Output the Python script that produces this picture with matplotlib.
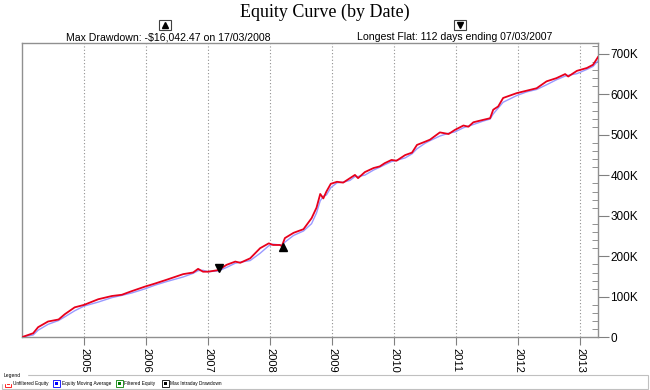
import matplotlib.pyplot as plt
import matplotlib.ticker as mticker
import numpy as np
import pandas as pd
from matplotlib.patches import Rectangle

# equity curve (decimal year, equity in K$)
years = [2004.02, 2004.18, 2004.26, 2004.42, 2004.59, 2004.69, 2004.85, 2005.00,
         2005.23, 2005.45, 2005.61, 2005.77, 2005.98, 2006.15, 2006.33, 2006.60,
         2006.76, 2006.84, 2006.92, 2007.00, 2007.17, 2007.30, 2007.44, 2007.52,
         2007.68, 2007.84, 2007.98, 2008.05, 2008.16, 2008.19, 2008.24, 2008.38,
         2008.54, 2008.67, 2008.75, 2008.81, 2008.86, 2008.91, 2008.98, 2009.08,
         2009.18, 2009.29, 2009.37, 2009.42, 2009.53, 2009.67, 2009.77, 2009.85,
         2009.96, 2010.04, 2010.18, 2010.29, 2010.37, 2010.50, 2010.58, 2010.74,
         2010.88, 2010.98, 2011.12, 2011.20, 2011.28, 2011.44, 2011.55, 2011.60,
         2011.68, 2011.76, 2011.98, 2012.14, 2012.30, 2012.46, 2012.62, 2012.76,
         2012.81, 2012.95, 2013.11, 2013.21, 2013.29]
equity_k = [1.5, 10, 25, 39, 44, 57, 74, 80,
            94, 102, 105, 114, 125, 133, 142, 156,
            160, 169, 162, 162, 166, 179, 187, 184,
            195, 220, 232, 228, 228, 225, 245, 258,
            267, 294, 320, 354, 343, 360, 379, 384,
            382, 393, 401, 393, 408, 418, 422, 430,
            438, 436, 450, 456, 475, 483, 488, 506,
            502, 512, 523, 520, 531, 537, 541, 562,
            570, 591, 603, 609, 615, 632, 640, 650,
            644, 658, 665, 673, 692]

# markers: longest flat end / max drawdown
flat_end = (2007.17, 172)
dd_point = (2008.21, 222)

year_ticks = list(range(2005, 2014))
title = "Equity Curve (by Date)"
dd_text = "Max Drawdown: -$16,042.47 on 17/03/2008"
flat_text = "Longest Flat: 112 days ending 07/03/2007"
legend_items = [("Unfiltered Equity", "#ff0000"),
                ("Equity Moving Average", "#0000ff"),
                ("Filtered Equity", "#008000"),
                ("Max Intraday Drawdown", "#000000")]

W, H = 650, 390


def fx(x):
    return x / W


def fy(y):
    return 1 - y / H


fig = plt.figure(figsize=(6.5, 3.9), dpi=100)
fig.patch.set_facecolor("white")
ax = fig.add_axes([fx(22), fy(337.3), fx(598) - fx(22), fy(43.3) - fy(337.3)])

x = np.array(years)
y = np.array(equity_k) * 1000
ma = pd.Series(y).rolling(2, min_periods=1).mean().values

ax.plot(x, ma, color="#8080ff", lw=1.0, alpha=0.8, zorder=2)
ax.plot(x, y, color="#e8001c", lw=1.3, zorder=3)
ax.plot(flat_end[0], flat_end[1] * 1000, marker="v", color="black", ms=6, zorder=4)
ax.plot(dd_point[0], dd_point[1] * 1000, marker="^", color="black", ms=6, zorder=4)

ax.set_xlim(2004.0, 2013.29)
ax.set_ylim(0, 726000)

ax.set_xticks(year_ticks)
ax.set_xticklabels([str(v) for v in year_ticks], rotation=270, fontsize=8,
                   family="Liberation Sans")
ax.grid(axis="x", linestyle=(0, (1, 2)), color="#909090", lw=0.8)

ax.yaxis.tick_right()
ax.yaxis.set_major_locator(mticker.MultipleLocator(100000))
ax.yaxis.set_minor_locator(mticker.MultipleLocator(20000))
ax.yaxis.set_major_formatter(mticker.FuncFormatter(
    lambda v, p: "0" if v == 0 else f"{int(v / 1000)}K"))
ax.tick_params(axis="y", which="major", direction="out", length=8, color="#808080",
               labelsize=8.5, pad=1)
ax.tick_params(axis="y", which="minor", direction="in", length=4, color="#808080")
ax.tick_params(axis="x", direction="out", length=6, color="#808080", pad=2)
for lbl in ax.get_yticklabels():
    lbl.set_family("Liberation Sans")
for s in ax.spines.values():
    s.set_color("#909090")
    s.set_linewidth(1.0)

# header
fig.text(0.5, fy(12), title, ha="center", va="center", fontsize=13,
         family="Liberation Serif")
fig.text(fx(168), fy(37), dd_text, ha="center", va="center", fontsize=7.6,
         family="Liberation Sans")
fig.text(fx(455), fy(37), flat_text, ha="center", va="center", fontsize=7.6,
         family="Liberation Sans")
for cx, mk in [(165, "^"), (460, "v")]:
    fig.patches.append(Rectangle((fx(cx - 6), fy(30)), fx(12), 10 / H, fill=False,
                                 edgecolor="#404040", lw=0.8, transform=fig.transFigure))
    fig.lines.append(plt.Line2D([fx(cx)], [fy(25)], marker=mk, color="black", ms=4,
                                transform=fig.transFigure))

# legend group box
fig.patches.append(Rectangle((fx(2), fy(389)), fx(646), 14 / H, fill=False,
                             edgecolor="#c0c0c0", lw=0.8, transform=fig.transFigure))
fig.text(fx(4), fy(375), "Legend", fontsize=3.6, va="center", ha="left",
         family="Liberation Sans", backgroundcolor="white")
lx = [8, 56.5, 119, 165]
for (name, col), px in zip(legend_items, lx):
    fig.patches.append(Rectangle((fx(px - 3.5), fy(386.5)), fx(7), 7 / H, facecolor="white",
                                 edgecolor=col, lw=0.6, transform=fig.transFigure))
    fig.patches.append(Rectangle((fx(px - 1.5), fy(384.5)), fx(3), 3 / H, facecolor=col,
                                 edgecolor=col, lw=0, transform=fig.transFigure))
    fig.text(fx(px + 5), fy(383), name, fontsize=3.4, va="center", ha="left",
             family="Liberation Sans")

fig.savefig("out.png", dpi=100)
